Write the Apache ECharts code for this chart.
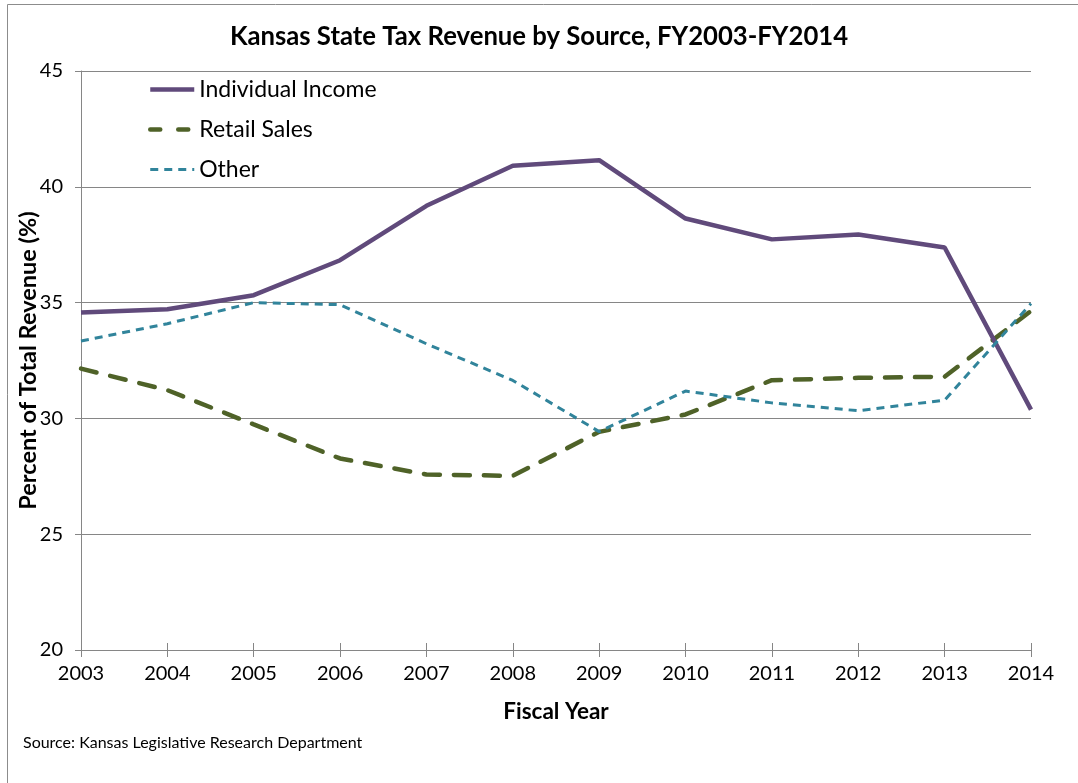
<!DOCTYPE html>
<html>
<head>
<meta charset="utf-8">
<title>Kansas State Tax Revenue by Source</title>
<script src="https://cdn.jsdelivr.net/npm/echarts@6/dist/echarts.min.js"></script>
<style>
  html, body { margin: 0; padding: 0; background: #fff; }
  #chart { width: 1078px; height: 783px; }
</style>
</head>
<body>
<div id="chart"></div>
<script>
// fiscal years on the x axis
const years = ['2003', '2004', '2005', '2006', '2007', '2008', '2009', '2010', '2011', '2012', '2013', '2014']

// share of total tax revenue (%)
const individualIncome = [34.57, 34.71, 35.32, 36.83, 39.18, 40.91, 41.15, 38.63, 37.73, 37.94, 37.38, 30.38]
const retailSales = [32.15, 31.22, 29.74, 28.27, 27.58, 27.52, 29.42, 30.17, 31.65, 31.75, 31.8, 34.64]
const other = [33.34, 34.09, 35.0, 34.91, 33.22, 31.64, 29.43, 31.18, 30.67, 30.33, 30.79, 34.96]

const font = 'Lato, "Open Sans", sans-serif'

// line looks, shared by series and legend
const incomeLine = { width: 4.5, color: '#604a7b' }
const retailLine = { width: 4.5, color: '#4f6228', type: [16, 14], cap: 'round' }
const otherLine = { width: 3, color: '#31849b', type: [8, 6] }

const chart = echarts.init(document.getElementById('chart'))

chart.setOption({
  animation: false,
  backgroundColor: '#fff',
  title: {
    text: 'Kansas State Tax Revenue by Source, FY2003-FY2014',
    left: 'center',
    top: 19,
    textStyle: { fontFamily: font, fontSize: 25.7, fontWeight: 'bold', color: '#000' }
  },
  graphic: [
    // outer frame (only top and left edges are visible in the original)
    { type: 'rect', shape: { x: 7.5, y: 4.5, width: 1200, height: 900 }, style: { fill: null, stroke: '#8c8c8c', lineWidth: 1 }, z: -1 },
    {
      type: 'text', left: 23, top: 735,
      style: { text: 'Source: Kansas Legislative Research Department', font: '16px ' + font, fill: '#000' }
    }
  ],
  legend: {
    orient: 'vertical',
    left: 148,
    top: 78,
    padding: 0,
    itemWidth: 44,
    itemHeight: 20,
    itemGap: 17,
    itemStyle: { opacity: 0 },
    textStyle: { fontFamily: font, fontSize: 23, color: '#000' },
    data: [
      { name: 'Individual Income', lineStyle: incomeLine },
      { name: 'Retail Sales', lineStyle: { width: 4.5, color: '#4f6228', type: [10, 18], cap: 'round' } },
      { name: 'Other', lineStyle: otherLine }
    ]
  },
  grid: { left: 81, right: 47, top: 71, bottom: 133, containLabel: false, outerBoundsMode: 'none' },
  xAxis: [{
    type: 'category',
    data: years,
    boundaryGap: false,
    name: 'Fiscal Year',
    nameLocation: 'middle',
    nameGap: 50,
    nameTextStyle: { fontFamily: font, fontSize: 22.5, fontWeight: 'bold', color: '#000' },
    axisLine: { lineStyle: { color: '#868686', width: 1 } },
    axisTick: { length: 7, lineStyle: { color: '#868686' } },
    axisLabel: { fontFamily: font, fontSize: 20, color: '#000', margin: 14 },
    splitLine: { show: false }
  }, {
    // inner half of the crossing tick marks
    type: 'category',
    data: years,
    boundaryGap: false,
    position: 'bottom',
    axisLine: { show: false },
    axisTick: { inside: true, length: 7, lineStyle: { color: '#868686' } },
    axisLabel: { show: false }
  }],
  yAxis: {
    type: 'value',
    min: 20,
    max: 45,
    interval: 5,
    name: 'Percent of Total Revenue (%)',
    nameLocation: 'middle',
    nameGap: 41,
    nameMoveOverlap: false,
    nameTextStyle: { fontFamily: font, fontSize: 23.5, fontWeight: 'bold', color: '#000' },
    axisLine: { show: true, lineStyle: { color: '#868686', width: 1 } },
    axisTick: { show: true, length: 6, lineStyle: { color: '#868686' } },
    axisLabel: { fontFamily: font, fontSize: 20, color: '#000', margin: 18 },
    splitLine: { lineStyle: { color: '#868686', width: 1 } }
  },
  series: [
    {
      name: 'Individual Income',
      type: 'line',
      data: individualIncome,
      symbol: 'none',
      color: '#604a7b',
      lineStyle: incomeLine,
      z: 3
    },
    {
      name: 'Retail Sales',
      type: 'line',
      data: retailSales,
      symbol: 'none',
      color: '#4f6228',
      lineStyle: retailLine,
      z: 2
    },
    {
      name: 'Other',
      type: 'line',
      data: other,
      symbol: 'none',
      color: '#31849b',
      lineStyle: otherLine,
      z: 4
    }
  ]
})
</script>
</body>
</html>
